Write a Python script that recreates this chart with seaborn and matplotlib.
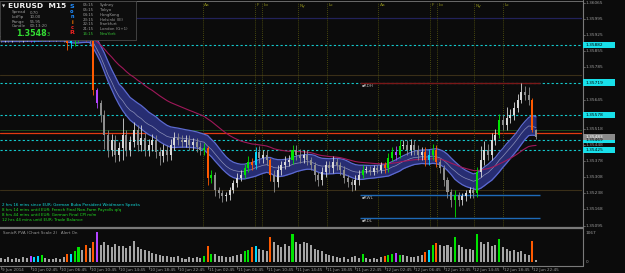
import numpy as np
import pandas as pd
import matplotlib
matplotlib.use("Agg")
import matplotlib.pyplot as plt
import matplotlib.transforms as mtrans
from matplotlib.patches import Rectangle
from matplotlib.lines import Line2D
import seaborn as sns

# ---------------- data ----------------
first_open_pips = 91.9          # pips above 1.35000
close_pips = [
    91.7, 92.1, 91.7, 92.5, 92.1, 91.7, 92.1, 92.5, 91.7, 92.5,
    92.1, 93.0, 92.1, 92.5, 92.1, 92.5, 92.1, 91.7, 89.0, 89.9,
    91.7, 93.0, 92.5, 92.1, 91.2, 68.6, 63.0, 57.8, 49.1, 42.6,
    46.9, 40.4, 43.4, 49.1, 42.6, 46.0, 51.3, 44.7, 47.8, 42.6,
    44.7, 46.9, 41.7, 39.9, 42.6, 40.4, 44.7, 47.8, 46.9, 46.0,
    46.9, 44.7, 46.0, 43.9, 42.6, 43.4, 30.4, 31.7, 25.2, 23.8,
    22.5, 23.0, 25.2, 28.2, 30.4, 31.7, 34.7, 37.3, 36.0, 41.7,
    39.1, 40.4, 38.2, 31.7, 28.6, 33.9, 36.0, 37.3, 38.2, 42.6,
    40.4, 39.1, 40.4, 38.2, 36.0, 31.7, 29.5, 33.0, 36.0, 34.7,
    37.3, 36.0, 33.9, 30.4, 28.6, 27.3, 29.5, 31.7, 33.9, 33.9,
    33.0, 34.7, 33.9, 36.0, 34.7, 39.1, 41.7, 40.4, 44.3, 44.7,
    42.6, 44.7, 42.6, 40.4, 41.7, 38.2, 40.4, 42.6, 37.3, 34.7,
    29.5, 24.3, 20.8, 23.0, 20.8, 22.5, 23.8, 25.2, 23.8, 33.0,
    38.2, 42.6, 40.4, 46.9, 49.1, 55.6, 53.4, 56.5, 57.8, 60.8,
    64.3, 67.8, 66.5, 64.3, 51.3, 48.3]
up_wick = [
    1.5, 1.5, 1.5, 1.5, 1.5, 1.5, 1.5, 1.5, 1.5, 1.5,
    1.5, 1.5, 1.5, 1.5, 1.5, 1.5, 1.5, 1.5, 1.5, 1.5,
    1.5, 1.5, 1.5, 1.5, 1.5, 0.5, 1, 1.5, 2, 2,
    2.5, 2, 2.5, 7.4, 2, 2.5, 3.4, 2, 5.6, 2,
    2.5, 2.5, 2, 2, 2.5, 2, 2.5, 2.5, 2, 2,
    2, 2, 2, 2, 2, 2, 1, 2, 1.5, 1.5,
    1.5, 1.5, 1.5, 1.5, 2, 2, 2, 2.5, 2, 2,
    2.5, 2, 2, 1, 2, 2, 2, 2.5, 2, 2,
    2, 2.5, 2, 2, 1.5, 1.5, 1.5, 2, 2, 2,
    2.5, 2, 1.5, 1.5, 1.5, 1.5, 2, 2, 2, 1.5,
    1.5, 1.5, 1.5, 1.5, 1.5, 2, 2, 2.5, 2.5, 2,
    2, 2.5, 2, 2, 2, 2, 2.5, 2.5, 2, 1.5,
    1.5, 1.5, 1.5, 2, 1.5, 1.5, 1.5, 1.5, 1.5, 2,
    6, 4, 2.5, 3, 2.5, 2.5, 2, 4.8, 2.5, 2.5,
    2.5, 3.9, 2.5, 3.5, 1, 0.5]
dn_wick = [
    2, 2, 2, 2, 2, 2, 2, 2, 2, 2,
    2, 2, 2, 2, 2, 2, 2, 2, 3, 2,
    2, 2, 2, 2, 2, 2, 2, 3, 6, 3,
    2.5, 3, 2.5, 5, 2.5, 2.5, 2, 2.5, 2.5, 2.5,
    2.5, 2.5, 2.5, 4, 2.5, 2.5, 2, 2, 2, 2,
    2, 2, 2, 2, 2, 2, 3, 2, 2.5, 2,
    2.5, 2, 2, 1.5, 1.5, 1.5, 1.5, 1.5, 2, 1.5,
    2, 2, 2, 2.5, 4.3, 2, 2, 1.5, 1.5, 1.5,
    2, 2, 2, 2, 2, 2.5, 2.5, 2, 2, 2,
    2, 2, 2, 2, 2, 2.5, 2, 2, 1.5, 1.5,
    1.5, 1.5, 1.5, 1.5, 2, 1.5, 1.5, 2, 1.5, 1.5,
    2, 2, 2, 2, 2, 2.5, 2, 2, 2, 2,
    2.5, 2.5, 3, 7.4, 2.5, 2, 2, 2, 2, 1.5,
    2, 2, 2, 2, 2, 1.5, 2, 2, 2, 2,
    1.5, 1.5, 2, 2, 1, 1]
pva_codes = ("........mc" "cg......oc" "gg.o.om..." ".........." ".........."
             ".....gog.." "......ggoc" "...o.....g" ".........." "........g."
             "....oggmg." ".....ocgo." "...g.....g" ".....g...." "....o.")
volume = [
    150, 120, 180, 100, 140, 90, 160, 130, 200, 180,
    220, 250, 150, 120, 100, 130, 110, 180, 300, 280,
    380, 520, 420, 600, 500, 720, 1067, 620, 700, 600,
    520, 650, 560, 580, 500, 560, 760, 540, 480, 420,
    380, 330, 300, 260, 200, 220, 180, 160, 200, 150,
    120, 170, 130, 160, 140, 200, 560, 280, 300, 220,
    200, 160, 180, 220, 250, 300, 380, 420, 520, 560,
    460, 420, 400, 900, 700, 600, 520, 640, 560, 1000,
    700, 640, 720, 680, 600, 480, 420, 380, 300, 250,
    220, 180, 150, 160, 120, 180, 200, 140, 280, 150,
    110, 140, 120, 160, 200, 260, 300, 320, 260, 240,
    200, 180, 160, 200, 240, 350, 420, 600, 680, 620,
    560, 600, 520, 900, 620, 520, 480, 450, 420, 1000,
    700, 640, 720, 560, 600, 820, 520, 460, 380, 440,
    360, 400, 300, 260, 760, 80]

price_ticks = [1.36065, 1.35995, 1.35925, 1.35855, 1.35785, 1.35645, 1.35518,
               1.35448, 1.35378, 1.35308, 1.35238, 1.35168, 1.35095]
time_labels = ["9 Jun 2014", "10 Jun 02:45", "10 Jun 06:45", "10 Jun 10:45", "10 Jun 14:45",
               "10 Jun 18:45", "10 Jun 22:45", "11 Jun 02:45", "11 Jun 06:45", "11 Jun 10:45",
               "11 Jun 14:45", "11 Jun 18:45", "11 Jun 22:45", "12 Jun 02:45", "12 Jun 06:45",
               "12 Jun 10:45", "12 Jun 14:45", "12 Jun 18:45", "12 Jun 22:45"]
cyan_levels = [1.35882, 1.35719, 1.35578, 1.35469, 1.35425]
round_level = 1.36000
dim_levels = [1.35752, 1.35252]
red_level = 1.35500
green_level = 1.35512
bid_price = 1.35483
range_levels = {"RDH": 1.35717, "RWL": 1.35230, "RDL": 1.35130}
session_names = ["Aa", "F", "Lo", "Ny", "Lc", "Aa", "F", "Lo", "Ny", "Lc"]
session_pos = [54.7, 68.8, 70.7, 80.5, 88.3, 102.2, 116.3, 118.2, 128.2, 136.0]
news = ["2 hrs 16 mins since EUR: German Buba President Weidmann Speaks",
        "8 hrs 14 mins until EUR: French Final Non-Farm Payrolls q/q",
        "8 hrs 44 mins until EUR: German Final CPI m/m",
        "12 hrs 44 mins until EUR: Trade Balance"]
clock_times = ["05:15", "05:15", "04:15", "23:15", "22:15", "21:15", "16:15"]
clock_cities = ["Sydney", "Tokyo", "HongKong", "Helsinki (III)", "Frankfurt", "London (G+1)", "NewYork"]
info_keys = ["Spread", "LotPip", "Range", "Candle"]
info_vals = ["0.70", "10.00", "55.95", "00:13:20"]

# ---------------- styling ----------------
sns.set_theme(style="dark")
plt.rcParams["font.family"] = ["DejaVu Sans"]
BG = "#0b0b0b"
GREY = "#9c9c9c"
pva_colors = {"o": "#ff5a00", "g": "#00e400", "c": "#00d8ff", "m": "#b444ff"}

W, H = 625, 273
fig = plt.figure(figsize=(W / 100, H / 100), dpi=100, facecolor=BG)


def fx(x):
    return x / W


def fy(y):
    return 1 - y / H


ax = fig.add_axes([0, fy(227), fx(582), 225 / H])
axv = fig.add_axes([0, fy(265), fx(582), 36 / H])
for a in (ax, axv):
    a.set_facecolor(BG)
    a.grid(False)
    for s in a.spines.values():
        s.set_visible(False)
    a.set_xticks([])
    a.set_yticks([])
    a.set_xlim(-0.27, 157.45)
ax.set_ylim(1.35091, 1.36069)
axv.set_ylim(-107, 1174)

# ---------------- OHLC ----------------
close = 1.35 + np.array(close_pips) / 10000
open_ = np.r_[1.35 + first_open_pips / 10000, close[:-1]]
high = np.maximum(open_, close) + np.array(up_wick) / 10000
low = np.minimum(open_, close) - np.array(dn_wick) / 10000
idx = np.arange(len(close))
codes = list(pva_codes)

cols = []
for o, c, k in zip(open_, close, codes):
    if k in pva_colors:
        cols.append(pva_colors[k])
    else:
        cols.append("#d8d8d8" if c >= o else "#8e8e8e")

df = pd.DataFrame({"i": idx, "hi": high, "lo": low, "cl": close, "vol": volume,
                   "code": codes})
df["band_hi"] = df["hi"].ewm(span=17, adjust=False).mean()
df["band_lo"] = df["lo"].ewm(span=17, adjust=False).mean()
df["band_mid"] = df["cl"].ewm(span=17, adjust=False).mean()
df["trend"] = df["cl"].ewm(span=45, adjust=False).mean()

# levels
for lv in dim_levels:
    ax.axhline(lv, color="#3a2f18", lw=0.8, zorder=1)
ax.axhline(round_level, color="#22225a", lw=0.9, zorder=1)
for lv in cyan_levels:
    ax.axhline(lv, color="#14c8cc", lw=0.8, ls=(0, (2, 2)), zorder=1)
ax.axhline(green_level, color="#1c4a1c", lw=0.7, zorder=1)
ax.axhline(red_level, color="#e23a10", lw=0.9, zorder=1)

# sessions
for p in session_pos:
    ax.axvline(p, color="#5c5c10", lw=0.6, ls=(0, (1, 1.5)), zorder=1)
tr_top = mtrans.blended_transform_factory(ax.transData, fig.transFigure)
for p, n in zip(session_pos, session_names):
    ax.text(p + 0.4, fy(5.5), n, transform=tr_top, color="#8c8c1a", fontsize=3.2,
            va="center", ha="left")

# band & trend
ax.fill_between(df["i"], df["band_lo"], df["band_hi"], color="#272d72", lw=0, zorder=2)
sns.lineplot(data=df, x="i", y="band_hi", ax=ax, color="#5c6ad0", lw=0.9, zorder=3)
sns.lineplot(data=df, x="i", y="band_lo", ax=ax, color="#5c6ad0", lw=0.9, zorder=3)
sns.lineplot(data=df, x="i", y="band_mid", ax=ax, color="#8c90b8", lw=0.5, zorder=3)
sns.lineplot(data=df, x="i", y="trend", ax=ax, color="#a0185a", lw=0.8, zorder=3)
ax.set_xlabel("")
ax.set_ylabel("")

# candles
ax.vlines(idx, low, high, colors=cols, lw=0.6, zorder=4)
body = np.maximum(np.abs(close - open_), 0.000025)
ax.bar(idx, body, bottom=np.minimum(open_, close), width=0.55, color=cols, lw=0, zorder=5)

# range lines
for name, lv in range_levels.items():
    c = "#7a1818" if name == "RDH" else "#1e6ab8"
    ax.hlines(lv, 97.3, 146.2, color=c, lw=1.0, zorder=3)
    ax.text(97.6, lv - 0.00004, "\u25aa" + name, color="#b0b0b0", fontsize=3.0,
            va="top", ha="left", zorder=6)

# ---------------- volume ----------------
vol_palette = {k: pva_colors.get(k, "#a4a4a4") for k in set(codes)}
sns.barplot(data=df, x="i", y="vol", hue="code", palette=vol_palette, dodge=False,
            native_scale=True, width=0.55, saturation=1, errorbar=None, legend=False,
            ax=axv, linewidth=0)
axv.set_xlim(-0.27, 157.45)
axv.set_ylim(-107, 1174)
axv.set_xlabel("")
axv.set_ylabel("")
axv.set_xticks([])
axv.set_yticks([])

# ---------------- frame ----------------
frame = dict(color="#7a7a7a", transform=fig.transFigure)
fig.add_artist(Line2D([fx(582.5), fx(582.5)], [fy(0), fy(266)], lw=0.8, **frame))
fig.add_artist(Line2D([0, fx(582.5)], [fy(1), fy(1)], lw=0.6, **frame))
fig.add_artist(Line2D([0, fx(582.5)], [fy(227.8), fy(227.8)], lw=1.6, **frame))
fig.add_artist(Line2D([0, fx(582.5)], [fy(266), fy(266)], lw=0.8, **frame))

# price axis
def ypx(p):
    return 3 + (1.36065 - p) * 22990


for p in price_ticks:
    fig.text(fx(586), fy(ypx(p)), f"{p:.5f}", color=GREY, fontsize=3.1, va="center")
    fig.add_artist(Line2D([fx(582.5), fx(584.5)], [fy(ypx(p))] * 2, lw=0.5, **frame))


def label_box(p, txt, fc, tc):
    y = ypx(p)
    fig.add_artist(Rectangle((fx(582.5), fy(y + 3.2)), fx(32), 6.4 / H, transform=fig.transFigure,
                             facecolor=fc, edgecolor="none", zorder=8))
    fig.text(fx(585), fy(y), txt, color=tc, fontsize=3.1, va="center", zorder=9)


for lv in cyan_levels:
    label_box(lv, f"{lv:.5f}", "#18e0ea", "#000000")
label_box(bid_price, f"{bid_price:.5f}", "#8a8a8a", "#ffffff")

fig.text(fx(586), fy(233), "1067", color=GREY, fontsize=3.1, va="center")
fig.text(fx(586), fy(262), "0", color=GREY, fontsize=3.1, va="center")

# time axis
tr_bot = mtrans.blended_transform_factory(axv.transData, fig.transFigure)
for k, lab in enumerate(time_labels):
    pos = 8 * k
    axv.add_artist(Line2D([pos, pos], [fy(266), fy(268.5)], color="#7a7a7a", lw=0.5,
                          transform=tr_bot, clip_on=False))
    axv.text(pos + 0.3, fy(270), lab, transform=tr_bot, color=GREY, fontsize=3.0,
             ha="left", va="center", clip_on=False)

# indicator title
fig.text(fx(3), fy(233), "SonicR PVA (Chart Scale 2)   Alert On", color=GREY, fontsize=2.9,
         va="center")

# news
news_cols = ["#12d8d8", "#22dd22", "#22dd22", "#22dd22"]
for k, (t, c) in enumerate(zip(news, news_cols)):
    fig.text(fx(2), fy(205 + 5 * k), t, color=c, fontsize=2.9, va="center", zorder=7)

# ---------------- header panel ----------------
fig.add_artist(Rectangle((0, fy(40)), fx(136), 38.5 / H, transform=fig.transFigure,
                         facecolor="#0d0d0d", edgecolor="#4a4a4a", lw=0.6, zorder=6))
fig.text(fx(1.5), fy(6.5), "\u25bc", color="#dddddd", fontsize=3.0, va="center", zorder=7)
fig.text(fx(8), fy(6.5), "EURUSD  M15", color="#f0f0f0", fontsize=5.4, fontweight="bold",
         va="center", zorder=7)
for k, (kk, vv) in enumerate(zip(info_keys, info_vals)):
    fig.text(fx(12), fy(12.5 + 4.6 * k), kk, color=GREY, fontsize=2.9, va="center", zorder=7)
    fig.text(fx(30), fy(12.5 + 4.6 * k), vv, color=GREY, fontsize=2.9, va="center", zorder=7)
fig.text(fx(16), fy(33.5), "1.3548", color="#33dd33", fontsize=5.8, fontweight="bold",
         va="center", zorder=7)
fig.text(fx(47), fy(34.5), "3", color="#33dd33", fontsize=3.6, va="center", zorder=7)
sonic_letters = ["S", "o", "n", "i", "c", "R"]
sonic_colors = ["#1e8cff", "#1e8cff", "#1e8cff", "#ff7a00", "#ee2222", "#ee2222"]
for k, (l, c) in enumerate(zip(sonic_letters, sonic_colors)):
    fig.text(fx(72), fy(6 + 5.4 * k), l, color=c, fontsize=4.6 if k in (0, 5) else 3.6,
             fontweight="bold", ha="center", va="center", zorder=7)
for k, (t, cty) in enumerate(zip(clock_times, clock_cities)):
    c = "#33bb33" if k == len(clock_times) - 1 else GREY
    fig.text(fx(83), fy(5 + 4.85 * k), t, color=c, fontsize=2.8, va="center", zorder=7)
    fig.text(fx(100), fy(5 + 4.85 * k), cty, color=c, fontsize=2.8, va="center", zorder=7)

fig.savefig("out.png", dpi=100, facecolor=BG)
